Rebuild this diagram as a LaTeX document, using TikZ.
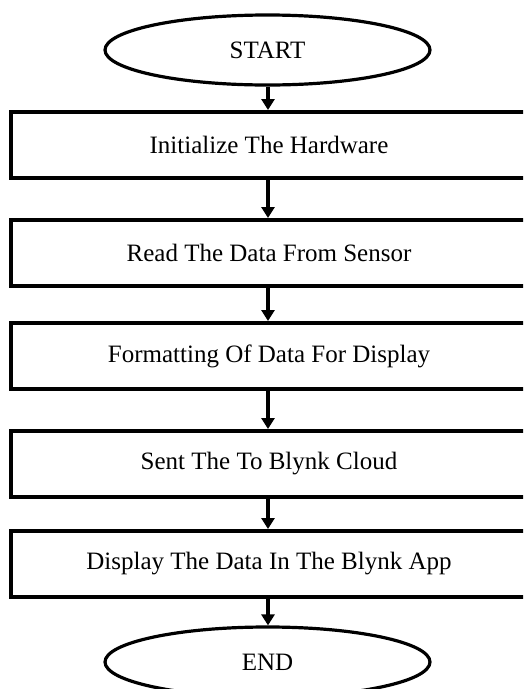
\documentclass[tikz,border=0pt]{standalone}
\usepackage{fontspec}
\setmainfont{Liberation Serif}
\usetikzlibrary{shapes.geometric,arrows.meta}
\tikzset{
  procbox/.style={draw=black, line width=4pt, rectangle, minimum width=516pt, minimum height=66pt, inner sep=0pt, font=\fontsize{25}{30}\selectfont},
  termnode/.style={draw=black, line width=3.2pt, ellipse, minimum width=325pt, minimum height=70pt, inner sep=0pt, font=\fontsize{25}{30}\selectfont},
  flowarrow/.style={line width=3.6pt, -{Triangle[width=13pt,length=11pt]}}
}
\begin{document}
\begin{tikzpicture}[x=1pt,y=-1pt]
\useasboundingbox (0,0) rectangle (523,689);
\clip (0,0) rectangle (523,689);
\fill[white] (0,0) rectangle (523,689);
\node[termnode] (start) at (267.5,50) {START};
\node[procbox] (b1) at (269,145) {Initialize The Hardware};
\node[procbox] (b2) at (269,253) {Read The Data From Sensor};
\node[procbox] (b3) at (269,356) {Formatting Of Data For Display};
\node[procbox] (b4) at (269,464) {Sent The To Blynk Cloud};
\node[procbox] (b5) at (269,564) {Display The Data In The Blynk App};
\node[termnode] (end) at (267.5,662) {END};
\draw[flowarrow] (start.south -| 268,0) -- (b1.north -| 268,0);
\draw[flowarrow] (b1.south -| 268,0) -- (b2.north -| 268,0);
\draw[flowarrow] (b2.south -| 268,0) -- (b3.north -| 268,0);
\draw[flowarrow] (b3.south -| 268,0) -- (b4.north -| 268,0);
\draw[flowarrow] (b4.south -| 268,0) -- (b5.north -| 268,0);
\draw[flowarrow] (b5.south -| 268,0) -- (end.north -| 268,0);
\end{tikzpicture}
\end{document}
